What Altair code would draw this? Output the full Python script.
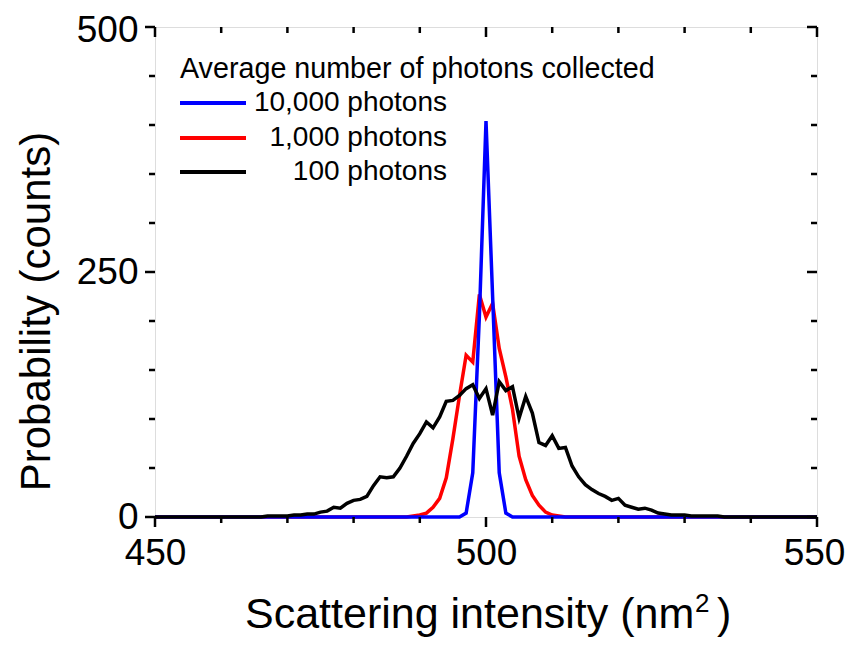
import altair as alt
import pandas as pd

# ---------------- data ----------------
intensity = list(range(450, 551))

counts_10000 = [
    0, 0, 0, 0, 0, 0, 0, 0, 0, 0,   # 450-459
    0, 0, 0, 0, 0, 0, 0, 0, 0, 0,   # 460-469
    0, 0, 0, 0, 0, 0, 0, 0, 0, 0,   # 470-479
    0, 0, 0, 0, 0, 0, 0, 0, 0, 0,   # 480-489
    0, 0, 0, 0, 0, 0, 0, 4, 45, 205,  # 490-499
    404, 225, 45, 4, 0, 0, 0, 0, 0, 0,  # 500-509
    0, 0, 0, 0, 0, 0, 0, 0, 0, 0,   # 510-519
    0, 0, 0, 0, 0, 0, 0, 0, 0, 0,   # 520-529
    0, 0, 0, 0, 0, 0, 0, 0, 0, 0,   # 530-539
    0, 0, 0, 0, 0, 0, 0, 0, 0, 0,   # 540-549
    0,                              # 550
]

counts_1000 = [
    0, 0, 0, 0, 0, 0, 0, 0, 0, 0,   # 450-459
    0, 0, 0, 0, 0, 0, 0, 0, 0, 0,   # 460-469
    0, 0, 0, 0, 0, 0, 0, 0, 0, 0,   # 470-479
    0, 0, 0, 0, 0, 0, 0, 0, 0, 1,   # 480-489
    2, 4, 10, 19, 40, 80, 124, 165, 158, 227,  # 490-499
    204, 218, 172, 143, 110, 62, 38, 22, 12, 5,  # 500-509
    2, 1, 0, 0, 0, 0, 0, 0, 0, 0,   # 510-519
    0, 0, 0, 0, 0, 0, 0, 0, 0, 0,   # 520-529
    0, 0, 0, 0, 0, 0, 0, 0, 0, 0,   # 530-539
    0, 0, 0, 0, 0, 0, 0, 0, 0, 0,   # 540-549
    0,                              # 550
]

counts_100 = [
    0, 0, 0, 0, 0, 0, 0, 0, 0, 0,   # 450-459
    0, 0, 0, 0, 0, 0, 0, 1, 1, 1,   # 460-469
    1, 2, 2, 3, 3, 5, 6, 10, 9, 14,   # 470-479
    17, 18, 21, 32, 41, 40, 41, 50, 62, 75,   # 480-489
    85, 97, 91, 102, 118, 119, 124, 131, 135, 121,  # 490-499
    131, 104, 138, 129, 133, 101, 123, 106, 76, 73,  # 500-509
    83, 70, 71, 52, 41, 33, 28, 24, 21, 17,   # 510-519
    19, 12, 10, 8, 9, 7, 4, 3, 2, 2,   # 520-529
    2, 1, 1, 1, 1, 1, 0, 0, 0, 0,   # 530-539
    0, 0, 0, 0, 0, 0, 0, 0, 0, 0,   # 540-549
    0,                              # 550
]

series_names = ["10,000 photons", "1,000 photons", "100 photons"]
legend_title = "Average number of photons collected"
x_title_main = "Scattering intensity (nm"
x_title_sup = "2"
x_title_end = ")"
y_title = "Probability (counts)"

x_label_values = [450, 500, 550]
y_label_values = [0, 250, 500]
x_major_ticks = [450, 500, 550]
x_minor_ticks = [460, 470, 480, 490, 510, 520, 530, 540]
y_major_ticks = [0, 250, 500]
y_minor_ticks = [50, 100, 150, 200, 300, 350, 400, 450]

# ---------------- styling ----------------
FONT = "Liberation Sans"
W, H = 662, 490
LINE_W = 3.5
TICK_W = 2.5
MAJOR = 10
MINOR = 6
TITLE_BASE = H + 111   # baseline of the x title, in plot coordinates

df_blue = pd.DataFrame({"intensity": intensity, "counts": counts_10000})
df_red = pd.DataFrame({"intensity": intensity, "counts": counts_1000})
df_black = pd.DataFrame({"intensity": intensity, "counts": counts_100})

x_scale = alt.Scale(domain=[450, 550], nice=False, zero=False)
y_scale = alt.Scale(domain=[0, 500], nice=False, zero=False)

x_axis = alt.Axis(
    values=x_label_values, ticks=False, domain=False, grid=False,
    labelFont=FONT, labelFontSize=37, labelColor="black", labelPadding=18,
    labelFlush=False, format="d", title=None,
    labelOffset=alt.condition("datum.value == 550", alt.value(-3), alt.value(0)),
)
y_axis = alt.Axis(
    values=y_label_values, ticks=False, domain=False, grid=False,
    labelFont=FONT, labelFontSize=37, labelColor="black", labelPadding=17,
    labelFlush=False, format="d",
    labelOffset=alt.condition("datum.value == 500", alt.value(3), alt.value(0)),
    title=y_title, titleFont=FONT, titleFontSize=42, titleFontWeight="normal",
    titleColor="black", titleX=-106, titleY=284, titleAngle=270,
    titleAlign="center", titleBaseline="alphabetic",
)

X = alt.X("intensity:Q", scale=x_scale, axis=x_axis)
Y = alt.Y("counts:Q", scale=y_scale, axis=y_axis)


def line(df, color):
    return alt.Chart(df).mark_line(color=color, strokeWidth=LINE_W).encode(x=X, y=Y)


red_line = line(df_red, "#ff0000")
blue_line = line(df_blue, "#0000ff")
black_line = line(df_black, "#000000")


# ---- ticks (all drawn through the scales) ----
def xticks(values, y0, y1):
    d = pd.DataFrame({"intensity": values})
    return alt.Chart(d).mark_rule(color="black", strokeWidth=TICK_W).encode(
        x=X, y=alt.value(y0), y2=alt.value(y1))


def yticks(values, x0, x1):
    d = pd.DataFrame({"counts": values})
    return alt.Chart(d).mark_rule(color="black", strokeWidth=TICK_W).encode(
        y=Y, x=alt.value(x0), x2=alt.value(x1))


tick_layers = [
    xticks(x_major_ticks, H, H + MAJOR),
    xticks(x_minor_ticks, H, H + MINOR),
    xticks(x_major_ticks, 0, MAJOR),
    xticks(x_minor_ticks, 0, MINOR),
    yticks(y_major_ticks, 0, -MAJOR),
    yticks(y_minor_ticks, 0, -MINOR),
    yticks(y_major_ticks, W, W - MAJOR),
    yticks(y_minor_ticks, W, W - MINOR),
]


def text_layer(label, x, y, size, align):
    d = pd.DataFrame({"label": [label]})
    return alt.Chart(d).mark_text(
        font=FONT, fontSize=size, color="black", align=align, baseline="alphabetic"
    ).encode(text="label:N", x=alt.value(x), y=alt.value(y))


# ---- x title with real superscript ----
title_layers = [
    text_layer(x_title_main, 90, TITLE_BASE, 43, "left"),
    text_layer(x_title_sup, 540, TITLE_BASE - 16, 26, "left"),
    text_layer(x_title_end, 562, TITLE_BASE, 43, "left"),
]

# ---- legend ----
legend_colors = ["#0000ff", "#ff0000", "#000000"]
legend_rows_y = [76, 111, 145]

legend_layers = [
    alt.Chart(pd.DataFrame({"label": [legend_title]})).mark_text(
        font=FONT, fontSize=28.7, color="black", align="left", baseline="middle"
    ).encode(text="label:N", x=alt.value(25), y=alt.value(42))
]
for name, col, yy in zip(series_names, legend_colors, legend_rows_y):
    one = pd.DataFrame({"label": [name]})
    legend_layers.append(
        alt.Chart(one).mark_rule(color=col, strokeWidth=4).encode(
            x=alt.value(25), x2=alt.value(91), y=alt.value(yy))
    )
    legend_layers.append(
        alt.Chart(one).mark_text(
            font=FONT, fontSize=28, color="black", align="right", baseline="middle"
        ).encode(text="label:N", x=alt.value(292), y=alt.value(yy))
    )

chart = alt.layer(
    red_line, blue_line, black_line, *tick_layers, *title_layers, *legend_layers
).properties(
    width=W, height=H,
    padding={"left": 147, "top": 19, "right": 29, "bottom": 120},
    autosize=alt.AutoSizeParams(type="none"),
).configure_view(
    stroke="black", strokeWidth=3
).configure(background="white")

chart.save("out.html", embed_options={"renderer": "svg", "actions": False})
